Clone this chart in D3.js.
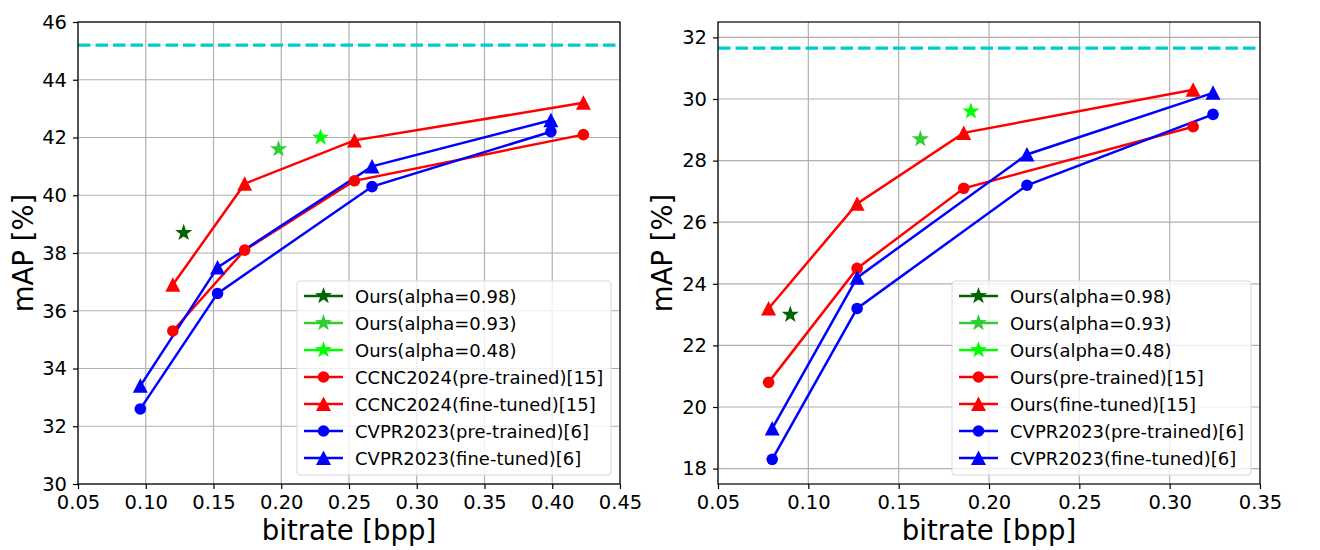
<!DOCTYPE html>
<html>
<meta charset="utf-8">
<head>
    <title>mAP vs bitrate</title>
</head>
<style>
    body { margin: 0; background: white; }
    svg text { font-family: "DejaVu Sans", sans-serif; }
</style>
<script src="https://d3js.org/d3.v7.min.js"></script>
<body>
<div id="chart"></div>
<script>

// ---- data, left panel ----
var leftStar98 = [[0.128, 38.7]]
var leftStar93 = [[0.198, 41.6]]
var leftStar48 = [[0.229, 42.0]]
var leftCcncPre = [[0.120, 35.3], [0.173, 38.1], [0.254, 40.5], [0.423, 42.1]]
var leftCcncFine = [[0.120, 36.9], [0.173, 40.4], [0.254, 41.9], [0.423, 43.2]]
var leftCvprPre = [[0.096, 32.6], [0.153, 36.6], [0.267, 40.3], [0.399, 42.2]]
var leftCvprFine = [[0.096, 33.4], [0.153, 37.5], [0.267, 41.0], [0.399, 42.6]]
var leftRef = 45.2
var leftXTicks = [0.05, 0.10, 0.15, 0.20, 0.25, 0.30, 0.35, 0.40, 0.45]
var leftYTicks = [30, 32, 34, 36, 38, 40, 42, 44, 46]
var leftNames = ["Ours(alpha=0.98)", "Ours(alpha=0.93)", "Ours(alpha=0.48)",
  "CCNC2024(pre-trained)[15]", "CCNC2024(fine-tuned)[15]",
  "CVPR2023(pre-trained)[6]", "CVPR2023(fine-tuned)[6]"]

// ---- data, right panel ----
var rightStar98 = [[0.090, 23.0]]
var rightStar93 = [[0.162, 28.7]]
var rightStar48 = [[0.190, 29.6]]
var rightOursPre = [[0.078, 20.8], [0.127, 24.5], [0.186, 27.1], [0.313, 29.1]]
var rightOursFine = [[0.078, 23.2], [0.127, 26.6], [0.186, 28.9], [0.313, 30.3]]
var rightCvprPre = [[0.080, 18.3], [0.127, 23.2], [0.221, 27.2], [0.324, 29.5]]
var rightCvprFine = [[0.080, 19.3], [0.127, 24.2], [0.221, 28.2], [0.324, 30.2]]
var rightRef = 31.65
var rightXTicks = [0.05, 0.10, 0.15, 0.20, 0.25, 0.30, 0.35]
var rightYTicks = [18, 20, 22, 24, 26, 28, 30, 32]
var rightNames = ["Ours(alpha=0.98)", "Ours(alpha=0.93)", "Ours(alpha=0.48)",
  "Ours(pre-trained)[15]", "Ours(fine-tuned)[15]",
  "CVPR2023(pre-trained)[6]", "CVPR2023(fine-tuned)[6]"]

var colors = ["#006400", "#32cd32", "#00ff00", "#ff0000", "#ff0000", "#0000ff", "#0000ff"]
var shapes = ["star", "star", "star", "circle", "triangle", "circle", "triangle"]

var svg = d3.select("#chart").append("svg")
  .attr("width", 1320).attr("height", 550)

// 5 point star, outer radius R
function starPath(R) {
  var r = R * 0.4, pts = []
  for (var k = 0; k < 10; k++) {
    var a = -Math.PI / 2 + k * Math.PI / 5
    var rr = k % 2 ? r : R
    pts.push([rr * Math.cos(a), rr * Math.sin(a)])
  }
  return "M" + pts.map(p => p[0].toFixed(2) + "," + p[1].toFixed(2)).join("L") + "Z"
}

function marker(g, shape, color, x, y) {
  if (shape == "circle") {
    g.append("circle").attr("cx", x).attr("cy", y).attr("r", 5.8).attr("fill", color)
  } else if (shape == "triangle") {
    g.append("path").attr("transform", "translate(" + x + "," + y + ")")
      .attr("d", "M0,-7.5 L7.5,7 L-7.5,7 Z").attr("fill", color)
  } else {
    g.append("path").attr("transform", "translate(" + x + "," + y + ")")
      .attr("d", starPath(9)).attr("fill", color)
  }
}

function panel(opt) {
  var x = d3.scaleLinear().domain(opt.xDomain).range([opt.left, opt.right])
  var y = d3.scaleLinear().domain(opt.yDomain).range([opt.bottom, opt.top])
  var g = svg.append("g")

  // grid
  g.selectAll(".gx").data(opt.xTicks).enter().append("line")
    .attr("x1", d => x(d)).attr("x2", d => x(d))
    .attr("y1", opt.top).attr("y2", opt.bottom)
    .attr("stroke", "#b0b0b0").attr("stroke-width", 1.2)
  g.selectAll(".gy").data(opt.yTicks).enter().append("line")
    .attr("x1", opt.left).attr("x2", opt.right)
    .attr("y1", d => y(d)).attr("y2", d => y(d))
    .attr("stroke", "#b0b0b0").attr("stroke-width", 1.2)

  // reference dashed line
  g.append("line")
    .attr("x1", opt.left).attr("x2", opt.right)
    .attr("y1", y(opt.ref)).attr("y2", y(opt.ref))
    .attr("stroke", "#00cccc").attr("stroke-width", 3.2)
    .attr("stroke-dasharray", "12.5,5")

  var line = d3.line().x(d => x(d[0])).y(d => y(d[1]))
  opt.series.forEach(function(s, i) {
    if (s.length > 1) {
      g.append("path").attr("d", line(s)).attr("fill", "none")
        .attr("stroke", colors[i]).attr("stroke-width", 2.5)
    }
  })
  opt.series.forEach(function(s, i) {
    s.forEach(function(p) { marker(g, shapes[i], colors[i], x(p[0]), y(p[1])) })
  })

  // axes
  var xa = g.append("g").attr("transform", "translate(0," + opt.bottom + ")")
    .call(d3.axisBottom(x).tickValues(opt.xTicks).tickFormat(d3.format(".2f")).tickSize(5).tickPadding(6))
  var ya = g.append("g").attr("transform", "translate(" + opt.left + ",0)")
    .call(d3.axisLeft(y).tickValues(opt.yTicks).tickFormat(d3.format("d")).tickSize(5).tickPadding(6))
  ;[xa, ya].forEach(function(a) {
    a.select(".domain").remove()
    a.selectAll("line").attr("stroke", "black").attr("stroke-width", 1.2)
    a.selectAll("text").attr("font-size", 19.5).attr("fill", "black")
  })
  g.append("rect").attr("x", opt.left).attr("y", opt.top)
    .attr("width", opt.right - opt.left).attr("height", opt.bottom - opt.top)
    .attr("fill", "none").attr("stroke", "black").attr("stroke-width", 1.2)

  g.append("text").attr("x", (opt.left + opt.right) / 2).attr("y", 540)
    .attr("text-anchor", "middle").attr("font-size", 27.5).text("bitrate [bpp]")
  g.append("text")
    .attr("transform", "translate(" + opt.yLabelX + "," + ((opt.top + opt.bottom) / 2) + ") rotate(-90)")
    .attr("text-anchor", "middle").attr("font-size", 27.5).text("mAP [%]")

  // legend
  var lg = g.append("g").attr("transform", "translate(" + opt.legX + "," + opt.legY + ")")
  lg.append("rect").attr("width", opt.legW).attr("height", 194).attr("rx", 3)
    .attr("fill", "white").attr("fill-opacity", 0.8)
    .attr("stroke", "#d9d9d9").attr("stroke-width", 1)
  opt.names.forEach(function(n, i) {
    var yy = 15 + i * 27
    lg.append("line").attr("x1", 7).attr("x2", 46).attr("y1", yy).attr("y2", yy)
      .attr("stroke", colors[i]).attr("stroke-width", 2.5)
    marker(lg, shapes[i], colors[i], 26.5, yy)
    lg.append("text").attr("x", 58).attr("y", yy + 6.5).attr("font-size", 18).text(n)
  })
}

panel({
  xDomain: [0.05, 0.45], yDomain: [30, 46],
  left: 78, right: 620, top: 22, bottom: 484,
  xTicks: leftXTicks, yTicks: leftYTicks, ref: leftRef,
  series: [leftStar98, leftStar93, leftStar48, leftCcncPre, leftCcncFine, leftCvprPre, leftCvprFine],
  names: leftNames, legX: 297, legY: 281, legW: 314, yLabelX: 33
})

panel({
  xDomain: [0.05, 0.35], yDomain: [17.5, 32.5],
  left: 718, right: 1260, top: 22, bottom: 484,
  xTicks: rightXTicks, yTicks: rightYTicks, ref: rightRef,
  series: [rightStar98, rightStar93, rightStar48, rightOursPre, rightOursFine, rightCvprPre, rightCvprFine],
  names: rightNames, legX: 952, legY: 281, legW: 299, yLabelX: 672
})

</script>
</body>
</html>
